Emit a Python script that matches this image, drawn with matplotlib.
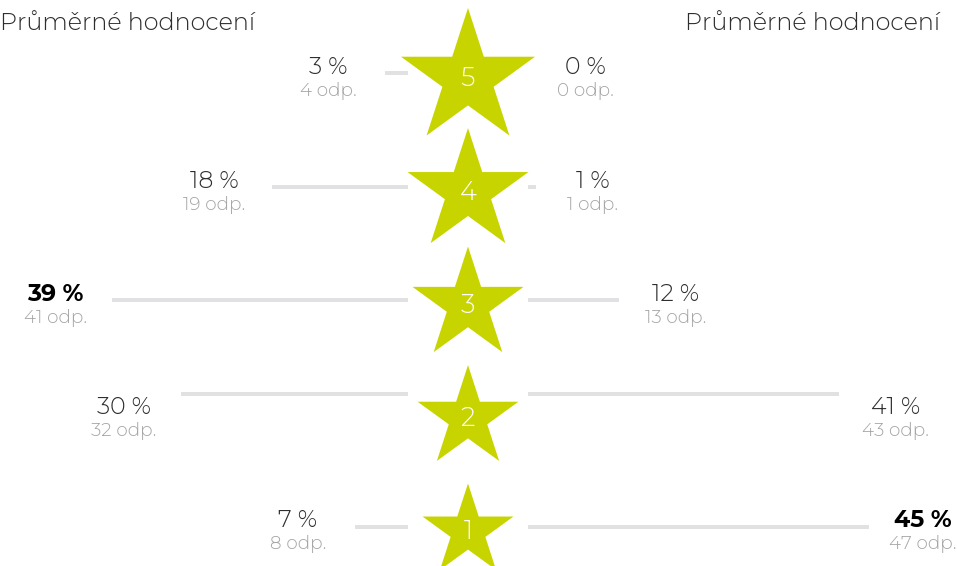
import matplotlib
matplotlib.use("Agg")
import matplotlib.pyplot as plt
from matplotlib.patches import Polygon
from matplotlib import font_manager as fm
import numpy as np

# ---- data ----
ratings = [5, 4, 3, 2, 1]
left_pct = [3, 18, 39, 30, 7]
left_count = [4, 19, 41, 32, 8]
right_pct = [0, 1, 12, 41, 45]
right_count = [0, 1, 13, 43, 47]
title_left = "Průměrné hodnocení"
title_right = "Průměrné hodnocení"

# ---- fonts: static instances of Montserrat (light / bold) ----
def make_fonts():
    try:
        from fontTools.ttLib import TTFont
        from fontTools.varLib import instancer
        path = fm.findfont(fm.FontProperties(family="Montserrat"),
                           fallback_to_default=False)
        out = {}
        for name, w in (("light", 300), ("bold", 700)):
            f = TTFont(path)
            inst = instancer.instantiateVariableFont(f, {"wght": w})
            fn = f"montserrat_{w}.ttf"
            inst.save(fn)
            out[name] = fm.FontProperties(fname=fn)
        return out
    except Exception:
        return {"light": fm.FontProperties(family="Open Sans", weight="light"),
                "bold": fm.FontProperties(family="Open Sans", weight="bold")}


FP = make_fonts()


def fp(kind, size):
    p = FP[kind].copy()
    p.set_size(size)
    return p


# ---- style / layout ----
W, H = 957, 566
STAR_COLOR = "#c8d400"
BAR_COLOR = "#e1e1e3"
PCT_COLOR = "#2e2e2e"
ODP_COLOR = "#a6a6a6"
CX = 468            # center of stars
GAP = 60            # half gap between bar starts
SCALE = 7.58        # px per percent
ROW0, ROW_STEP = 78.5, 113.2
star_radius = [70.5, 63.6, 58.4, 53.0, 47.8]
bar_offset = [-5.5, -5, -5, -24, -4]
LABEL_OFF = 57
RIGHT_LIMIT = W - 34   # keep right labels inside the canvas

fig = plt.figure(figsize=(W / 100, H / 100), dpi=100)
ax = fig.add_axes([0, 0, 1, 1])
ax.set_xlim(0, W)
ax.set_ylim(H, 0)
ax.axis("off")

rows = np.array([ROW0 + i * ROW_STEP for i in range(len(ratings))])
bar_y = rows + np.array(bar_offset)

lmax = max(left_pct)
rmax = max(right_pct)

# bars
lw = np.array(left_pct) * SCALE
rw = np.array(right_pct) * SCALE
ax.barh(bar_y, -lw, left=CX - GAP, height=4, color=BAR_COLOR, zorder=1)
ax.barh(bar_y, rw, left=CX + GAP, height=4, color=BAR_COLOR, zorder=1)


def star(cx, cy, R):
    r = R * 0.381966
    pts = []
    for k in range(10):
        ang = np.pi / 2 + k * np.pi / 5
        rad = R if k % 2 == 0 else r
        pts.append((cx + rad * np.cos(ang), cy - rad * np.sin(ang)))
    return pts


for i, rt in enumerate(ratings):
    cy = rows[i]
    ax.add_patch(Polygon(star(CX, cy, star_radius[i]), closed=True,
                         facecolor=STAR_COLOR, edgecolor="none", zorder=2))
    ax.text(CX, cy + 8, str(rt), ha="center", va="baseline",
            fontproperties=fp("light", 18.5), color="white", zorder=3)

    # left labels
    lx = CX - GAP - lw[i] - LABEL_OFF
    bold = left_pct[i] == lmax
    ax.text(lx, cy - 4, f"{left_pct[i]} %", ha="center", va="baseline",
            fontproperties=fp("bold" if bold else "light", 17),
            color="black" if bold else PCT_COLOR)
    ax.text(lx, cy + 18, f"{left_count[i]} odp.", ha="center", va="baseline",
            fontproperties=fp("light", 13.2), color=ODP_COLOR)

    # right labels
    rx = min(CX + GAP + rw[i] + LABEL_OFF, RIGHT_LIMIT)
    bold = right_pct[i] == rmax
    ax.text(rx, cy - 4, f"{right_pct[i]} %", ha="center", va="baseline",
            fontproperties=fp("bold" if bold else "light", 17),
            color="black" if bold else PCT_COLOR)
    ax.text(rx, cy + 18, f"{right_count[i]} odp.", ha="center", va="baseline",
            fontproperties=fp("light", 13.2), color=ODP_COLOR)

ax.text(0, 30, title_left, ha="left", va="baseline",
        fontproperties=fp("light", 17.2), color=PCT_COLOR)
ax.text(940, 30, title_right, ha="right", va="baseline",
        fontproperties=fp("light", 17.2), color=PCT_COLOR)

fig.savefig("out.png", dpi=100)
